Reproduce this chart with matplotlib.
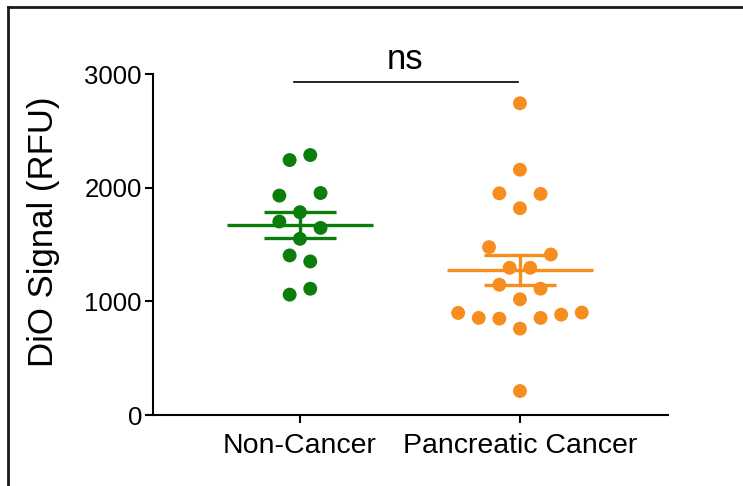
import numpy as np
import matplotlib
matplotlib.use("Agg")
import matplotlib.pyplot as plt
from matplotlib.lines import Line2D

plt.rcParams['font.family'] = ['Liberation Sans', 'DejaVu Sans']

# ---- data (observations in recording order) ---------------------------
groups = ["Non-Cancer", "Pancreatic Cancer"]
non_cancer = [1059, 1111, 1404, 1351, 1550, 1702, 1646, 1784, 1930, 1953, 2243, 2287]
pancreatic = [211, 760, 848, 854, 854, 883, 898, 901, 1018, 1146, 1111, 1295, 1295,
              1477, 1412, 1819, 1950, 1945, 2158, 2743]
colors = ["#0b7d0b", "#f68d1e"]
yticks = [0, 1000, 2000, 3000]
sig_label = "ns"

# ---- figure / axes ------------------------------------------------------
W, H, DPI = 7.43, 4.86, 100
fig = plt.figure(figsize=(W, H), dpi=DPI)
ax_left, ax_right, ax_top, ax_bot = 153, 668, 74, 415
ax = fig.add_axes([ax_left / 743, 1 - ax_bot / 486,
                   (ax_right - ax_left) / 743, (ax_bot - ax_top) / 486])
xlim = (-0.668, 1.673)
ylim = (0, 3000)
ax.set_xlim(*xlim)
ax.set_ylim(*ylim)

px_x = (ax_right - ax_left) / (xlim[1] - xlim[0])   # pixels per x unit
px_y = (ax_bot - ax_top) / (ylim[1] - ylim[0])      # pixels per y unit


def swarm_offsets(vals, step=10.3, min_dist=19.6, row_h=8.0):
    """Row swarm: values grouped into rows, each row laid out symmetrically
    on a slot grid and pushed outward until it clears the rows below.
    A lone point always stays on the centre line."""
    v = np.asarray(vals, float)
    ys = v * px_y
    order = list(np.argsort(v, kind="stable"))
    rows, cur = [], [order[0]]
    for idx in order[1:]:
        if ys[idx] - ys[cur[0]] <= row_h:
            cur.append(idx)
        else:
            rows.append(cur)
            cur = [idx]
    rows.append(cur)

    placed = []
    xs = np.zeros(len(v))
    for row in rows:
        row = sorted(row)                      # fill slots in recording order
        n = len(row)
        base = [(k - (n - 1) / 2) * 2 for k in range(n)]
        base = sorted(base, key=lambda b: (abs(b), b))  # inner first, left first
        g = 0
        slots = base
        if n > 1:
            while True:
                slots = [b + np.sign(b) * g for b in base]
                ok = all(np.hypot(s * step - px, ys[idx] - py) >= min_dist
                         for s, idx in zip(slots, row) for (px, py) in placed)
                if ok or g > 10:
                    break
                g += 1
        for s, idx in zip(slots, row):
            xs[idx] = s * step
            placed.append((s * step, ys[idx]))
    return xs / px_x


for i, (vals, col) in enumerate(zip([non_cancer, pancreatic], colors)):
    v = np.asarray(vals, float)
    off = swarm_offsets(v)
    ax.scatter(i + off, v, s=100, color=col, edgecolors="none", zorder=3,
               clip_on=False)
    mean = v.mean()
    sem = v.std(ddof=1) / np.sqrt(len(v))
    ax.plot([i - 0.33, i + 0.33], [mean, mean], color=col, lw=2.4,
            solid_capstyle="butt", zorder=4)
    ax.plot([i, i], [mean - sem, mean + sem], color=col, lw=2.4, zorder=4)
    for yv in (mean - sem, mean + sem):
        ax.plot([i - 0.165, i + 0.165], [yv, yv], color=col, lw=2.4,
                solid_capstyle="butt", zorder=4)

# significance bracket
ax.plot([-0.027, 0.99], [2930, 2930], color="black", lw=1.2, clip_on=False,
        zorder=5)
ax.text(0.477, 3044, sig_label, ha="center", va="baseline", fontsize=25,
        clip_on=False)

# axes styling
for side in ("top", "right"):
    ax.spines[side].set_visible(False)
for side in ("left", "bottom"):
    ax.spines[side].set_linewidth(1.5)
ax.set_yticks(yticks)
ax.set_yticklabels([str(t) for t in yticks], fontsize=18.5)
ax.set_xticks(range(len(groups)))
ax.set_xticklabels(groups, fontsize=20.5)
ax.tick_params(axis="both", length=6, width=1.5, direction="out")
ax.tick_params(axis="y", pad=2)
ax.tick_params(axis="x", pad=7)
fig.text(44 / 743, 1 - 232 / 486, "DiO Signal (RFU)", rotation=90,
         ha="center", va="center", fontsize=25)

# outer frame (top and left edges)
fig.add_artist(Line2D([8 / 743, 1.0], [1 - 7 / 486, 1 - 7 / 486],
                      transform=fig.transFigure, color="#1a1a1a", lw=2.0))
fig.add_artist(Line2D([8 / 743, 8 / 743], [0, 1 - 7 / 486],
                      transform=fig.transFigure, color="#1a1a1a", lw=2.0))

fig.savefig("out.png", dpi=DPI)
